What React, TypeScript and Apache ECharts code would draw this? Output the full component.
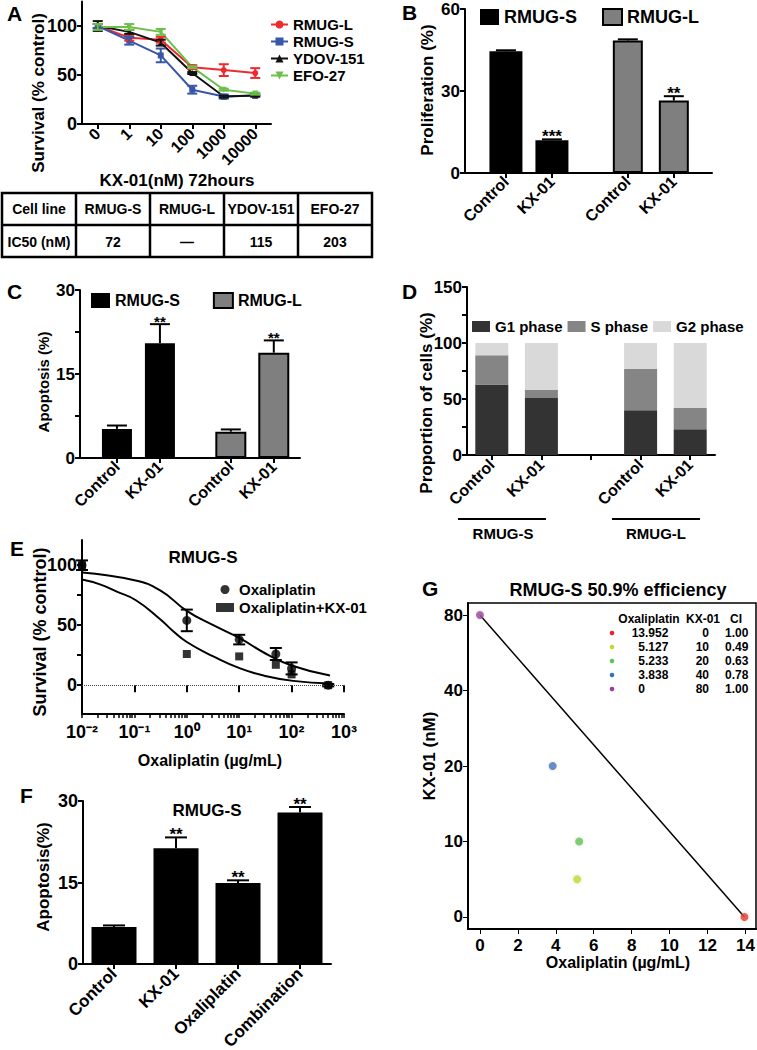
import React, { useEffect, useRef } from 'react';
import * as echarts from 'echarts';

const FONT = '"Liberation Sans", Arial, Helvetica, sans-serif';

// ---------------- DATA ----------------
// Panel A: survival vs KX-01 dose
const aDoses = ['0', '1', '10', '100', '1000', '10000'];
const aRmugL = [100, 88, 86, 58, 55, 52];
const aRmugLErr = [2, 3, 3, 2, 6, 5];
const aRmugS = [100, 85, 70, 35, 28, 29];
const aRmugSErr = [2, 4, 7, 4, 2, 1];
const aYdov = [100, 94, 83, 52, 28, 29];
const aYdovErr = [5, 2, 3, 1, 1, 1];
const aEfo = [99, 99, 94, 58, 35, 31];
const aEfoErr = [3, 3, 3, 1, 1, 1];
const aYTicks = [0, 50, 100];
const tableHeader = ['Cell line', 'RMUG-S', 'RMUG-L', 'YDOV-151', 'EFO-27'];
const tableRow = ['IC50 (nM)', '72', '—', '115', '203'];

// Panel B: proliferation
const barCats = ['Control', 'KX-01', 'Control', 'KX-01'];
const bRmugS = [44.5, 12.0];
const bRmugSErr = [0.4, 0.3];
const bRmugL = [48.5, 26.5];
const bRmugLErr = [0.4, 1.6];
const bSig = ['', '***', '', '**'];
const bYTicks = [0, 30, 60];

// Panel C: apoptosis
const cRmugS = [5.2, 20.5];
const cRmugSErr = [0.6, 3.4];
const cRmugL = [4.7, 18.8];
const cRmugLErr = [0.4, 2.2];
const cSig = ['', '**', '', '**'];
const cYTicks = [0, 7.5, 15, 22.5, 30];
const cYLabels = [0, 15, 30];

// Panel D: cell cycle
const dCats = ['Control', 'KX-01', '', 'Control', 'KX-01'];
const dG1 = [63, 51, null, 40, 23];
const dS = [26, 7, null, 37, 19];
const dG2 = [11, 42, null, 23, 58];
const dYTicks = [0, 25, 50, 75, 100, 125, 150];
const dYLabels = [0, 50, 100, 150];

// Panel E: oxaliplatin dose response
const eDose = [0.01, 1, 10, 50, 100, 500];
const eOxa = [100, 54, 38, 26, 14, 0];
const eOxaErr = [4, 9, 4, 5, 5, 1];
const eCombo = [100, 26, 24, 17, 9, 0];
const eFitOxaX = [0.01, 0.1, 0.31, 1, 3.2, 10.4, 33, 107, 540];
const eFitOxaY = [94, 87.5, 79, 62, 50, 39, 26, 16, 8];
const eFitComboX = [0.01, 0.022, 0.046, 0.105, 0.31, 0.55, 1, 3.2, 10.4, 33, 107, 540];
const eFitComboY = [88, 84, 78, 71, 55, 45, 36, 24, 14, 7.5, 3.6, 1.4];
const eDecades = [-2, -1, 0, 1, 2, 3];
const eYTicks = [0, 25, 50, 75, 100];
const eYLabels = [0, 50, 100];

// Panel F: apoptosis combination
const fCats = ['Control', 'KX-01', 'Oxaliplatin', 'Combination'];
const fVals = [6.8, 21.3, 14.9, 27.9];
const fErr = [0.3, 2.0, 0.5, 1.0];
const fSig = ['', '**', '**', '**'];
const fYTicks = [0, 15, 30];

// Panel G: isobologram
const gOxa = [13.952, 5.127, 5.233, 3.838, 0];
const gKx = [0, 10, 20, 40, 80];
const gCI = ['1.00', '0.49', '0.63', '0.78', '1.00'];
const gPlotY = [0, 5, 10, 20, 80];
const gKxTicks = [0, 10, 20, 40, 80];
const gOxaTicks = [0, 2, 4, 6, 8, 10, 12, 14];

// ---------------- STYLE / LAYOUT ----------------
const SLOTS = [0, 1, 2.65, 3.65];
const A_COLORS = ['#ee2a2f', '#3a56a8', '#111111', '#6cc04a'];
const GREY = '#7f7f7f';
const D_COLORS = ['#333333', '#858585', '#d9d9d9'];
const G_COLORS = ['#e8252b', '#c8d82a', '#5cc55a', '#3a6fc4', '#9b3ba0'];
const SUP: Record<string, string> = { '-': '⁻', '0': '⁰', '1': '¹', '2': '²', '3': '³' };

const ax = { lineStyle: { color: '#000', width: 2 } };
const lbl = (size: number, extra: any = {}) => ({ color: '#000', fontFamily: FONT, fontWeight: 'bold', fontSize: size, ...extra });

function valueY(gridIndex: number, min: number, max: number, ticks: number[], labels: number[], size: number) {
  return {
    type: 'value', gridIndex, min, max,
    axisLine: { show: true, onZero: false, ...ax },
    axisTick: { show: true, length: 5, customValues: ticks, ...ax },
    axisLabel: { show: true, customValues: labels, margin: 5, lineHeight: size - 2, ...lbl(size) },
    splitLine: { show: false },
  };
}

function slotX(gridIndex: number, min: number, max: number, show = true) {
  if (!show) return { type: 'value', gridIndex, min, max, show: false, position: 'bottom' };
  return {
    type: 'value', gridIndex, min, max, position: 'bottom',
    axisLine: { show: true, onZero: false, ...ax },
    axisTick: { show: true, length: 5, customValues: SLOTS, ...ax },
    axisLabel: {
      show: true, customValues: SLOTS, rotate: 45, margin: 6, ...lbl(16),
      formatter: (v: number) => {
        let bi = 0;
        SLOTS.forEach((s, i) => { if (Math.abs(s - v) < Math.abs(SLOTS[bi] - v)) bi = i; });
        return barCats[bi];
      },
    },
    splitLine: { show: false },
  };
}

function errBars(xi: number, yi: number, pts: number[][], o: any) {
  return {
    type: 'custom', xAxisIndex: xi, yAxisIndex: yi, data: pts, encode: { x: 0, y: [1, 2] },
    clip: false, silent: true, z: 6,
    renderItem: (params: any, api: any) => {
      const x = api.value(0), lo = api.value(1), hi = api.value(2);
      const a = api.coord([x, lo]);
      const b = api.coord([x, hi]);
      const st = { stroke: o.color || '#000', lineWidth: o.lw || 2, fill: 'none' };
      const ch: any[] = [
        { type: 'line', shape: { x1: a[0], y1: a[1], x2: b[0], y2: b[1] }, style: st },
        { type: 'line', shape: { x1: b[0] - o.cap, y1: b[1], x2: b[0] + o.cap, y2: b[1] }, style: st },
      ];
      if (o.lowerCap) ch.push({ type: 'line', shape: { x1: a[0] - o.cap, y1: a[1], x2: a[0] + o.cap, y2: a[1] }, style: st });
      const s = o.sig && o.sig[params.dataIndex];
      if (s) {
        ch.push({
          type: 'text', x: b[0], y: b[1] + (o.sigDy || 0),
          style: { text: s, fill: '#000', fontSize: o.sigSize || 16, fontWeight: 'bold', fontFamily: FONT, align: 'center', verticalAlign: 'bottom', textAlign: 'center', textVerticalAlign: 'bottom' },
        });
      }
      return { type: 'group', children: ch };
    },
  };
}

function T(text: string, x: number, y: number, size: number, o: any = {}) {
  const align = o.align || 'center';
  const va = o.va || 'middle';
  return {
    type: 'text', x, y, rotation: o.rot || 0, z: 100, silent: true,
    style: { text, fill: o.fill || '#000', fontSize: size, fontWeight: o.weight || 'bold', fontFamily: FONT, align, verticalAlign: va, textAlign: align, textVerticalAlign: va },
  };
}
function L(x1: number, y1: number, x2: number, y2: number, w = 2) {
  return { type: 'line', z: 100, silent: true, shape: { x1, y1, x2, y2 }, style: { stroke: '#000', lineWidth: w } };
}

const toIdx = (v: number) => {
  for (let i = 0; i < gKxTicks.length - 1; i++) {
    if (v <= gKxTicks[i + 1]) return i + (v - gKxTicks[i]) / (gKxTicks[i + 1] - gKxTicks[i]);
  }
  return gKxTicks.length - 1;
};
const supNum = (n: number) => '10' + String(n).split('').map((c) => SUP[c] || c).join('');

function buildOption() {
  const legendText = lbl(15);
  const strip = (n: string) => n.replace(/^[A-Z]:/, '');

  // E minor ticks (log decades)
  const eMinor: number[] = [];
  for (let d = -2; d < 3; d++) for (let k = 1; k < 10; k++) eMinor.push(d + Math.log10(k));
  eMinor.push(3);

  const grids = [
    { left: 82, top: 1.5, width: 189, height: 122.5 },
    { left: 465, top: 9, width: 247, height: 164 },
    { left: 80, top: 290, width: 220, height: 168 },
    { left: 467, top: 287, width: 248, height: 168 },
    { left: 82, top: 540, width: 262, height: 174 },
    { left: 83, top: 801, width: 248, height: 163 },
    { left: 468, top: 603, width: 288, height: 326, show: true, borderColor: '#000', borderWidth: 1.5 },
  ].map((g) => ({ ...g, containLabel: false, outerBoundsMode: 'none' }));

  const xAxis: any[] = [
    {
      type: 'category', gridIndex: 0, data: aDoses, boundaryGap: true,
      axisLine: { show: true, onZero: false, ...ax },
      axisTick: { show: true, alignWithLabel: true, length: 5, ...ax },
      axisLabel: { interval: 0, rotate: 45, margin: 7, ...lbl(16) },
    },
    slotX(1, -0.89, 4.48),
    slotX(1, -0.89, 4.48, false),
    slotX(2, -0.86, 4.26),
    slotX(2, -0.86, 4.26, false),
    {
      type: 'category', gridIndex: 3, data: dCats, boundaryGap: true,
      axisLine: { show: true, onZero: false, ...ax },
      axisTick: { show: true, alignWithLabel: true, length: 5, ...ax },
      axisLabel: { interval: 0, rotate: 45, margin: 7, ...lbl(16) },
    },
    {
      type: 'value', gridIndex: 4, min: -2, max: 3, position: 'bottom',
      axisLine: { show: true, onZero: false, ...ax },
      axisTick: { show: true, length: 4, customValues: eMinor, lineStyle: { color: '#000', width: 1.5 } },
      axisLabel: { show: true, customValues: eDecades, margin: 9, formatter: (v: number) => supNum(Math.round(v)), ...lbl(18) },
      splitLine: { show: false },
    },
    {
      type: 'value', gridIndex: 4, min: -2, max: 3, position: 'bottom',
      axisLine: { show: false },
      axisTick: { show: true, length: 7, customValues: eDecades, ...ax },
      axisLabel: { show: false },
      splitLine: { show: false },
    },
    {
      type: 'category', gridIndex: 5, data: fCats, boundaryGap: true,
      axisLine: { show: true, onZero: false, ...ax },
      axisTick: { show: true, alignWithLabel: true, length: 5, ...ax },
      axisLabel: { interval: 0, rotate: 45, margin: 7, ...lbl(17) },
    },
    {
      type: 'value', gridIndex: 6, min: -0.63, max: 14.56, position: 'bottom',
      axisLine: { show: true, onZero: false, ...ax },
      axisTick: { show: true, length: 5, customValues: gOxaTicks, lineStyle: { color: '#000', width: 1 } },
      axisLabel: { show: true, customValues: gOxaTicks, margin: 8, ...lbl(17) },
      splitLine: { show: false },
    },
  ];

  const gYIdx = gKxTicks.map((_, i) => i);
  const yAxis: any[] = [
    valueY(0, 0, 125, aYTicks, aYTicks, 18),
    valueY(1, 0, 60, bYTicks, bYTicks, 17),
    valueY(2, 0, 30, cYTicks, cYLabels, 17),
    valueY(3, 0, 150, dYTicks, dYLabels, 17),
    valueY(4, -24, 121, eYTicks, eYLabels, 18),
    valueY(5, 0, 30, fYTicks, fYTicks, 18),
    {
      ...valueY(6, -0.159, 4.159, gYIdx, gYIdx, 17),
      axisLabel: { show: true, customValues: gYIdx, margin: 5, lineHeight: 15, ...lbl(17), formatter: (v: number) => String(gKxTicks[Math.round(v)]) },
      axisTick: { show: true, length: 5, customValues: gYIdx, lineStyle: { color: '#000', width: 1 } },
    },
  ];

  const series: any[] = [];
  // ---- A ----
  const aSets = [
    ['RMUG-L', aRmugL, aRmugLErr, 'circle'],
    ['RMUG-S', aRmugS, aRmugSErr, 'rect'],
    ['YDOV-151', aYdov, aYdovErr, 'triangle'],
    ['EFO-27', aEfo, aEfoErr, 'triangle'],
  ] as any[];
  aSets.forEach(([name, vals, errs, sym], k) => {
    series.push({
      name, type: 'line', xAxisIndex: 0, yAxisIndex: 0, data: vals, color: A_COLORS[k],
      symbol: sym, symbolSize: 6, symbolRotate: k === 3 ? 180 : 0,
      lineStyle: { width: 2, color: A_COLORS[k] }, itemStyle: { color: A_COLORS[k] }, z: 3,
    });
    series.push(errBars(0, 0, vals.map((v: number, i: number) => [i, v - errs[i], v + errs[i]]), { color: A_COLORS[k], cap: 5, lw: 2, lowerCap: true }));
  });

  // ---- B ----
  series.push({
    name: 'B:RMUG-S', type: 'bar', xAxisIndex: 1, yAxisIndex: 1, barWidth: 33,
    data: bRmugS.map((v, i) => [SLOTS[i], v]), itemStyle: { color: '#000' }, z: 2,
  });
  series.push({
    name: 'B:RMUG-L', type: 'bar', xAxisIndex: 2, yAxisIndex: 1, barWidth: 30,
    data: bRmugL.map((v, i) => [SLOTS[i + 2], v]), itemStyle: { color: GREY, borderColor: '#000', borderWidth: 2 }, z: 2,
  });
  const bMeans = [...bRmugS, ...bRmugL];
  const bErrs = [...bRmugSErr, ...bRmugLErr];
  series.push(errBars(1, 1, bMeans.map((m, i) => [SLOTS[i], m, m + bErrs[i]]), { cap: 10, lw: 2, sig: bSig, sigSize: 17, sigDy: 6 }));

  // ---- C ----
  series.push({
    name: 'C:RMUG-S', type: 'bar', xAxisIndex: 3, yAxisIndex: 2, barWidth: 30,
    data: cRmugS.map((v, i) => [SLOTS[i], v]), itemStyle: { color: '#000' }, z: 2,
  });
  series.push({
    name: 'C:RMUG-L', type: 'bar', xAxisIndex: 4, yAxisIndex: 2, barWidth: 31,
    data: cRmugL.map((v, i) => [SLOTS[i + 2], v]), itemStyle: { color: GREY, borderColor: '#000', borderWidth: 2 }, z: 2,
  });
  const cMeans = [...cRmugS, ...cRmugL];
  const cErrs = [...cRmugSErr, ...cRmugLErr];
  series.push(errBars(3, 2, cMeans.map((m, i) => [SLOTS[i], m, m + cErrs[i]]), { cap: 10, lw: 2, sig: cSig, sigSize: 15, sigDy: 5 }));

  // ---- D ----
  [['G1 phase', dG1], ['S phase', dS], ['G2 phase', dG2]].forEach(([name, vals]: any, k) => {
    series.push({
      name, type: 'bar', stack: 'd', xAxisIndex: 5, yAxisIndex: 3, barWidth: 33,
      data: vals.map((v: any) => (v == null ? '-' : v)), itemStyle: { color: D_COLORS[k] }, z: 2,
    });
  });

  // ---- E ----
  series.push({
    name: 'fitOxa', type: 'line', xAxisIndex: 6, yAxisIndex: 4, smooth: 0.5, symbol: 'none',
    data: eFitOxaX.map((x, i) => [Math.log10(x), eFitOxaY[i]]), lineStyle: { color: '#000', width: 2 }, z: 3,
    markLine: {
      silent: true, symbol: 'none', label: { show: false },
      lineStyle: { type: 'dotted', color: '#444', width: 1 }, data: [{ yAxis: 0 }],
    },
  });
  series.push({
    name: 'fitCombo', type: 'line', xAxisIndex: 6, yAxisIndex: 4, smooth: 0.5, symbol: 'none',
    data: eFitComboX.map((x, i) => [Math.log10(x), eFitComboY[i]]), lineStyle: { color: '#000', width: 2 }, z: 3,
  });
  series.push({
    name: 'Oxaliplatin', type: 'scatter', xAxisIndex: 6, yAxisIndex: 4, symbol: 'circle', symbolSize: 9,
    data: eDose.map((d, i) => [Math.log10(d), eOxa[i]]), itemStyle: { color: '#000' }, z: 4,
  });
  series.push({
    name: 'Oxaliplatin+KX-01', type: 'scatter', xAxisIndex: 6, yAxisIndex: 4, symbol: 'rect', symbolSize: 8,
    data: eDose.map((d, i) => [Math.log10(d), eCombo[i]]), itemStyle: { color: '#000' }, z: 4,
  });
  series.push(errBars(6, 4, eDose.map((d, i) => [Math.log10(d), eOxa[i] - eOxaErr[i], eOxa[i] + eOxaErr[i]]), { cap: 6, lw: 2, lowerCap: true }));

  // ---- F ----
  series.push({
    name: 'F', type: 'bar', xAxisIndex: 8, yAxisIndex: 5, barWidth: 45, data: fVals, itemStyle: { color: '#000' }, z: 2,
  });
  series.push(errBars(8, 5, fVals.map((v, i) => [i, v, v + fErr[i]]), { cap: 11, lw: 2, sig: fSig, sigSize: 17, sigDy: 6 }));

  // ---- G ----
  series.push({
    name: 'Gline', type: 'line', xAxisIndex: 9, yAxisIndex: 6, symbol: 'none',
    data: [[gOxa[4], toIdx(gPlotY[4])], [gOxa[0], toIdx(gPlotY[0])]], lineStyle: { color: '#000', width: 1.5 }, z: 3,
  });
  series.push({
    name: 'Gpts', type: 'scatter', xAxisIndex: 9, yAxisIndex: 6, symbolSize: 8, z: 4,
    data: gOxa.map((x, i) => ({ value: [x, toIdx(gPlotY[i])], itemStyle: { color: G_COLORS[i], shadowBlur: 4, shadowColor: 'rgba(200,200,150,0.6)' } })),
  });

  // ---------------- GRAPHIC ----------------
  const gr: any[] = [];
  [['A', 7, 13.5], ['B', 402, 12.5], ['C', 7, 291.5], ['D', 402, 291.5], ['E', 10, 548.5], ['F', 20, 795], ['G', 422, 588.5]].forEach(([t, x, y]: any) => gr.push(T(t, x, y, 21, { align: 'left' })));
  gr.push(T('KX-01(nM) 72hours', 177, 180, 17));
  gr.push(T('Survival (% control)', 38, 93, 17, { rot: Math.PI / 2 }));
  gr.push(T('Proliferation (%)', 427, 90, 17, { rot: Math.PI / 2 }));
  gr.push(T('Apoptosis (%)', 43, 382, 15, { rot: Math.PI / 2 }));
  gr.push(T('Proportion of cells (%)', 426, 403, 17, { rot: Math.PI / 2 }));
  gr.push(T('Survival (% control)', 40, 632, 18, { rot: Math.PI / 2 }));
  gr.push(T('RMUG-S', 203, 557.5, 17));
  gr.push(T('Oxaliplatin (µg/mL)', 210, 760, 16));
  gr.push(T('RMUG-S', 207, 810, 17));
  gr.push(T('Apoptosis(%)', 43, 877, 17, { rot: Math.PI / 2 }));
  gr.push(T('RMUG-S 50.9% efficiency', 618, 590, 18));
  gr.push(T('KX-01 (nM)', 429, 756, 17, { rot: Math.PI / 2 }));
  gr.push(T('Oxaliplatin (µg/mL)', 618, 962, 16));

  // A table
  const colX = [2, 76, 150, 224, 298, 372];
  gr.push({ type: 'rect', z: 100, silent: true, shape: { x: colX[0], y: 193, width: colX[5] - colX[0], height: 64 }, style: { fill: 'none', stroke: '#000', lineWidth: 2.5 } });
  gr.push(L(colX[0], 225, colX[5], 225, 2.5));
  for (let i = 1; i < 5; i++) gr.push(L(colX[i], 193, colX[i], 257, 2.5));
  for (let i = 0; i < 5; i++) {
    const cx = (colX[i] + colX[i + 1]) / 2;
    gr.push(T(tableHeader[i], cx, 209, 14));
    gr.push(T(tableRow[i], cx, 241.5, 14));
  }

  // D group brackets
  gr.push(L(458, 519, 546, 519, 2));
  gr.push(L(612, 519, 700, 519, 2));
  gr.push(T('RMUG-S', 503, 533, 15));
  gr.push(T('RMUG-L', 656, 533, 15));

  // G inner table
  gr.push(T('Oxaliplatin', 649, 619, 12));
  gr.push(T('KX-01', 703, 619, 12));
  gr.push(T('CI', 736, 619, 12));
  const rowY = [633, 647, 661, 675, 689];
  gOxa.forEach((v, i) => {
    const y = rowY[i];
    gr.push({ type: 'circle', z: 100, silent: true, shape: { cx: 612, cy: y, r: 2.3 }, style: { fill: G_COLORS[i] } });
    const s = v === 0 ? '0' : v.toFixed(3);
    const [ip, fp] = s.split('.');
    gr.push(T(ip, 645, y, 12, { align: 'right' }));
    if (fp) gr.push(T('.' + fp, 645, y, 12, { align: 'left' }));
    gr.push(T(String(gKx[i]), 709, y, 12, { align: 'right' }));
    gr.push(T(gCI[i], 725, y, 12, { align: 'left' }));
  });

  const legend: any[] = [
    {
      data: ['RMUG-L', 'RMUG-S', 'YDOV-151', 'EFO-27'], orient: 'vertical', left: 270, top: 17,
      itemWidth: 17, itemHeight: 10, itemGap: 2, padding: 0, selectedMode: false, textStyle: legendText,
    },
    {
      data: [
        { name: 'B:RMUG-S', icon: 'rect', itemStyle: { color: '#000', borderWidth: 0 } },
        { name: 'B:RMUG-L', icon: 'rect', itemStyle: { color: GREY, borderColor: '#000', borderWidth: 2 } },
      ],
      left: 480, top: 8, itemWidth: 19, itemHeight: 16, itemGap: 25, padding: 0, selectedMode: false,
      formatter: strip, textStyle: lbl(18),
    },
    {
      data: [
        { name: 'C:RMUG-S', icon: 'rect', itemStyle: { color: '#000', borderWidth: 0 } },
        { name: 'C:RMUG-L', icon: 'rect', itemStyle: { color: GREY, borderColor: '#000', borderWidth: 2 } },
      ],
      left: 91, top: 292, itemWidth: 19, itemHeight: 15, itemGap: 33, padding: 0, selectedMode: false,
      formatter: strip, textStyle: lbl(16),
    },
    {
      data: [
        { name: 'G1 phase', icon: 'rect' }, { name: 'S phase', icon: 'rect' }, { name: 'G2 phase', icon: 'rect' },
      ],
      left: 472, top: 319, itemWidth: 18, itemHeight: 11, itemGap: 5, padding: 0, selectedMode: false, textStyle: lbl(15),
    },
    {
      data: ['Oxaliplatin', 'Oxaliplatin+KX-01'], orient: 'vertical', left: 216, top: 582,
      itemWidth: 18, itemHeight: 9, itemGap: 3, padding: 0, selectedMode: false, textStyle: lbl(15),
    },
  ];

  return {
    animation: false,
    backgroundColor: '#fff',
    textStyle: { fontFamily: FONT },
    grid: grids,
    xAxis,
    yAxis,
    legend,
    series,
    graphic: { elements: gr },
  };
}

export default function App() {
  const ref = useRef<HTMLDivElement>(null);
  useEffect(() => {
    if (!ref.current) return;
    const chart = echarts.init(ref.current, undefined, { renderer: 'svg' });
    chart.setOption(buildOption() as any);
    return () => chart.dispose();
  }, []);
  return (
    <div
      ref={ref}
      style={{ position: 'fixed', left: 0, top: 0, width: 757, height: 1050, background: '#fff' }}
    />
  );
}
